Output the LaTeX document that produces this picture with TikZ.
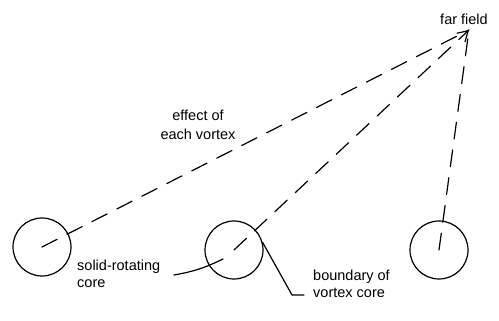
\documentclass[tikz,border=0pt]{standalone}
\usepackage{fontspec}
\setmainfont{Liberation Sans}
\usetikzlibrary{arrows.meta}
\begin{document}
\begin{tikzpicture}[x=1pt,y=1pt,
  ln/.style={line width=1.2pt, line cap=round, line join=round},
  dsh/.style={ln, dash pattern=on 17pt off 11pt},
  core/.style={circle, draw, line width=1.2pt, minimum size=58pt, inner sep=0pt},
  lbl/.style={font=\fontsize{14.5}{17}\selectfont, inner sep=0pt},
]
\useasboundingbox (0,0) rectangle (499,321);
% far field point
\coordinate (F) at (469,291);
\node[lbl, anchor=base] (ff) at (464,296) {far field};
% vortex cores
\node[core] (c1) at (42,74) {};
\node[core] (c2) at (234,71) {};
\node[core] (c3) at (439,71) {};
% dashed lines of influence
\draw[dsh] (c1.center) -- (F);
\draw[dsh, -{Straight Barb[length=10pt, width=12pt, line width=1.2pt]}] (c2.center) -- (F);
\draw[dsh] (c3.center) -- (F);
% labels
\node[lbl, align=center, font=\fontsize{14.5}{19}\selectfont] (eff) at (198,196) {effect of\\each vortex};
\node[lbl, align=left, anchor=base west] (src) at (77,33) {solid-rotating\\core};
\node[lbl, align=left, anchor=base west] (bvc) at (313,23) {boundary of\\vortex core};
% leaders
\coordinate (s1) at (174,46);
\coordinate (s2) at (223,62);
\draw[ln] (s1) to[bend right=8] (s2);
\coordinate (b1) at (292,26);
\coordinate (b2) at (304,26);
\draw[ln] (c2.15) -- (b1) -- (b2);
\end{tikzpicture}
\end{document}
